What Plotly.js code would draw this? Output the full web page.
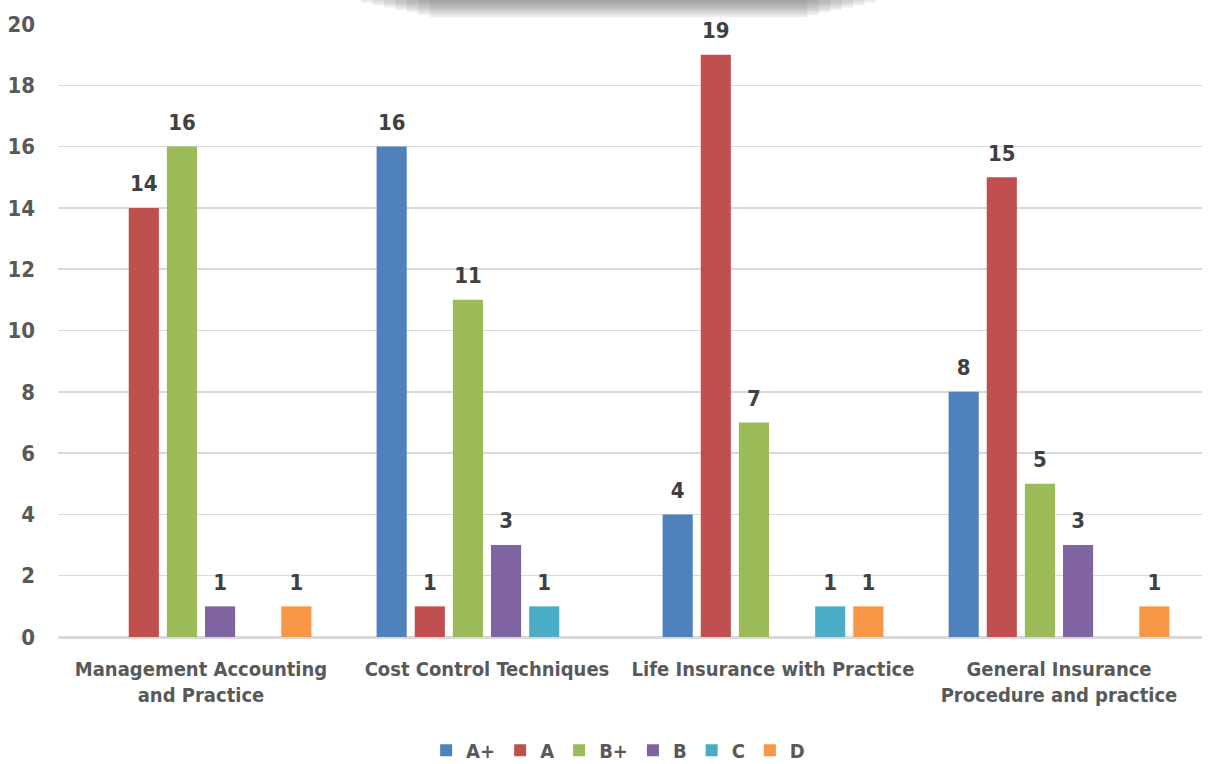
<!DOCTYPE html>
<html><head><meta charset="utf-8">
<script src="https://cdn.plot.ly/plotly-3.0.1.min.js"></script>
<style>html,body{margin:0;padding:0;background:#fff}#chart{width:1212px;height:764px}</style>
</head><body><div id="chart"></div>
<script>
const categories = ["Management Accounting<br>and Practice", "Cost Control Techniques", "Life Insurance with Practice", "General Insurance<br>Procedure and practice"];
const seriesNames = ["A+", "A", "B+", "B", "C", "D"];
const valsAplus = [0, 16, 4, 8];
const valsA = [14, 1, 19, 15];
const valsBplus = [16, 11, 7, 5];
const valsB = [1, 3, 0, 3];
const valsC = [0, 1, 1, 0];
const valsD = [1, 0, 1, 1];
const colors = ["#4F81BD", "#C0504D", "#9BBB59", "#8064A2", "#4BACC6", "#F79646"];
const allVals = [valsAplus, valsA, valsBplus, valsB, valsC, valsD];
const FONT = '"DejaVu Sans Condensed", "DejaVu Sans", sans-serif';

const traces = allVals.map((v, i) => ({
  type: 'bar', name: seriesNames[i], x: categories, y: v,
  marker: {color: colors[i]},
  text: v.map(n => n ? '<span style="font-size:22px">' + String(n) + '</span><br><span style="color:rgba(0,0,0,0)">.</span>' : ''),
  textposition: 'outside', cliponaxis: false, constraintext: 'none',
  textfont: {family: FONT, size: 9, color: '#404040', weight: 'bold', stretch: 'condensed'},
  hoverinfo: 'none'
}));

const shapes = [];
for (let k = 0; k < 7; k++) {
  shapes.push({type: 'rect', xref: 'paper', yref: 'paper', layer: 'below',
    x0: 0.265 + k*0.01, x1: 0.715 - k*0.01, y0: 1.035 - k*0.004, y1: 1.045,
    fillcolor: 'rgba(110,110,110,0.12)', line: {width: 0}});
}

const layout = {
  width: 1212, height: 764,
  margin: {l: 58, r: 10, t: 24, b: 127},
  paper_bgcolor: '#fff', plot_bgcolor: '#fff',
  barmode: 'group', bargap: 0.2, bargroupgap: 0.21,
  font: {family: FONT, color: '#595959', size: 20, weight: 'bold', stretch: 'condensed'},
  showlegend: true,
  legend: {orientation: 'h', x: 0.51, xanchor: 'center', xref: 'container', yref: 'container', y: 0.018, yanchor: 'middle',
    itemwidth: 30, font: {family: FONT, size: 20, color: '#595959', weight: 'bold', stretch: 'condensed'}, traceorder: 'normal'},
  xaxis: {type: 'category', showgrid: false, showline: true, linecolor: '#D9D9D9', linewidth: 2,
    ticks: '', tickangle: 0, automargin: false,
    tickfont: {family: FONT, size: 20, color: '#595959', weight: 'bold', stretch: 'condensed'}, ticklabelstandoff: 13},
  yaxis: {range: [0, 20], dtick: 2, tick0: 0, showgrid: true, gridcolor: '#D9D9D9', gridwidth: 1.5,
    zeroline: true, zerolinecolor: '#D9D9D9', zerolinewidth: 2, showline: false, ticks: '',
    ticklabelstandoff: 22, automargin: false,
    tickfont: {family: FONT, size: 22, color: '#595959', weight: 'bold', stretch: 'condensed'}},
  shapes: shapes
};
Plotly.newPlot('chart', traces, layout, {displayModeBar: false, staticPlot: true});
</script></body></html>
